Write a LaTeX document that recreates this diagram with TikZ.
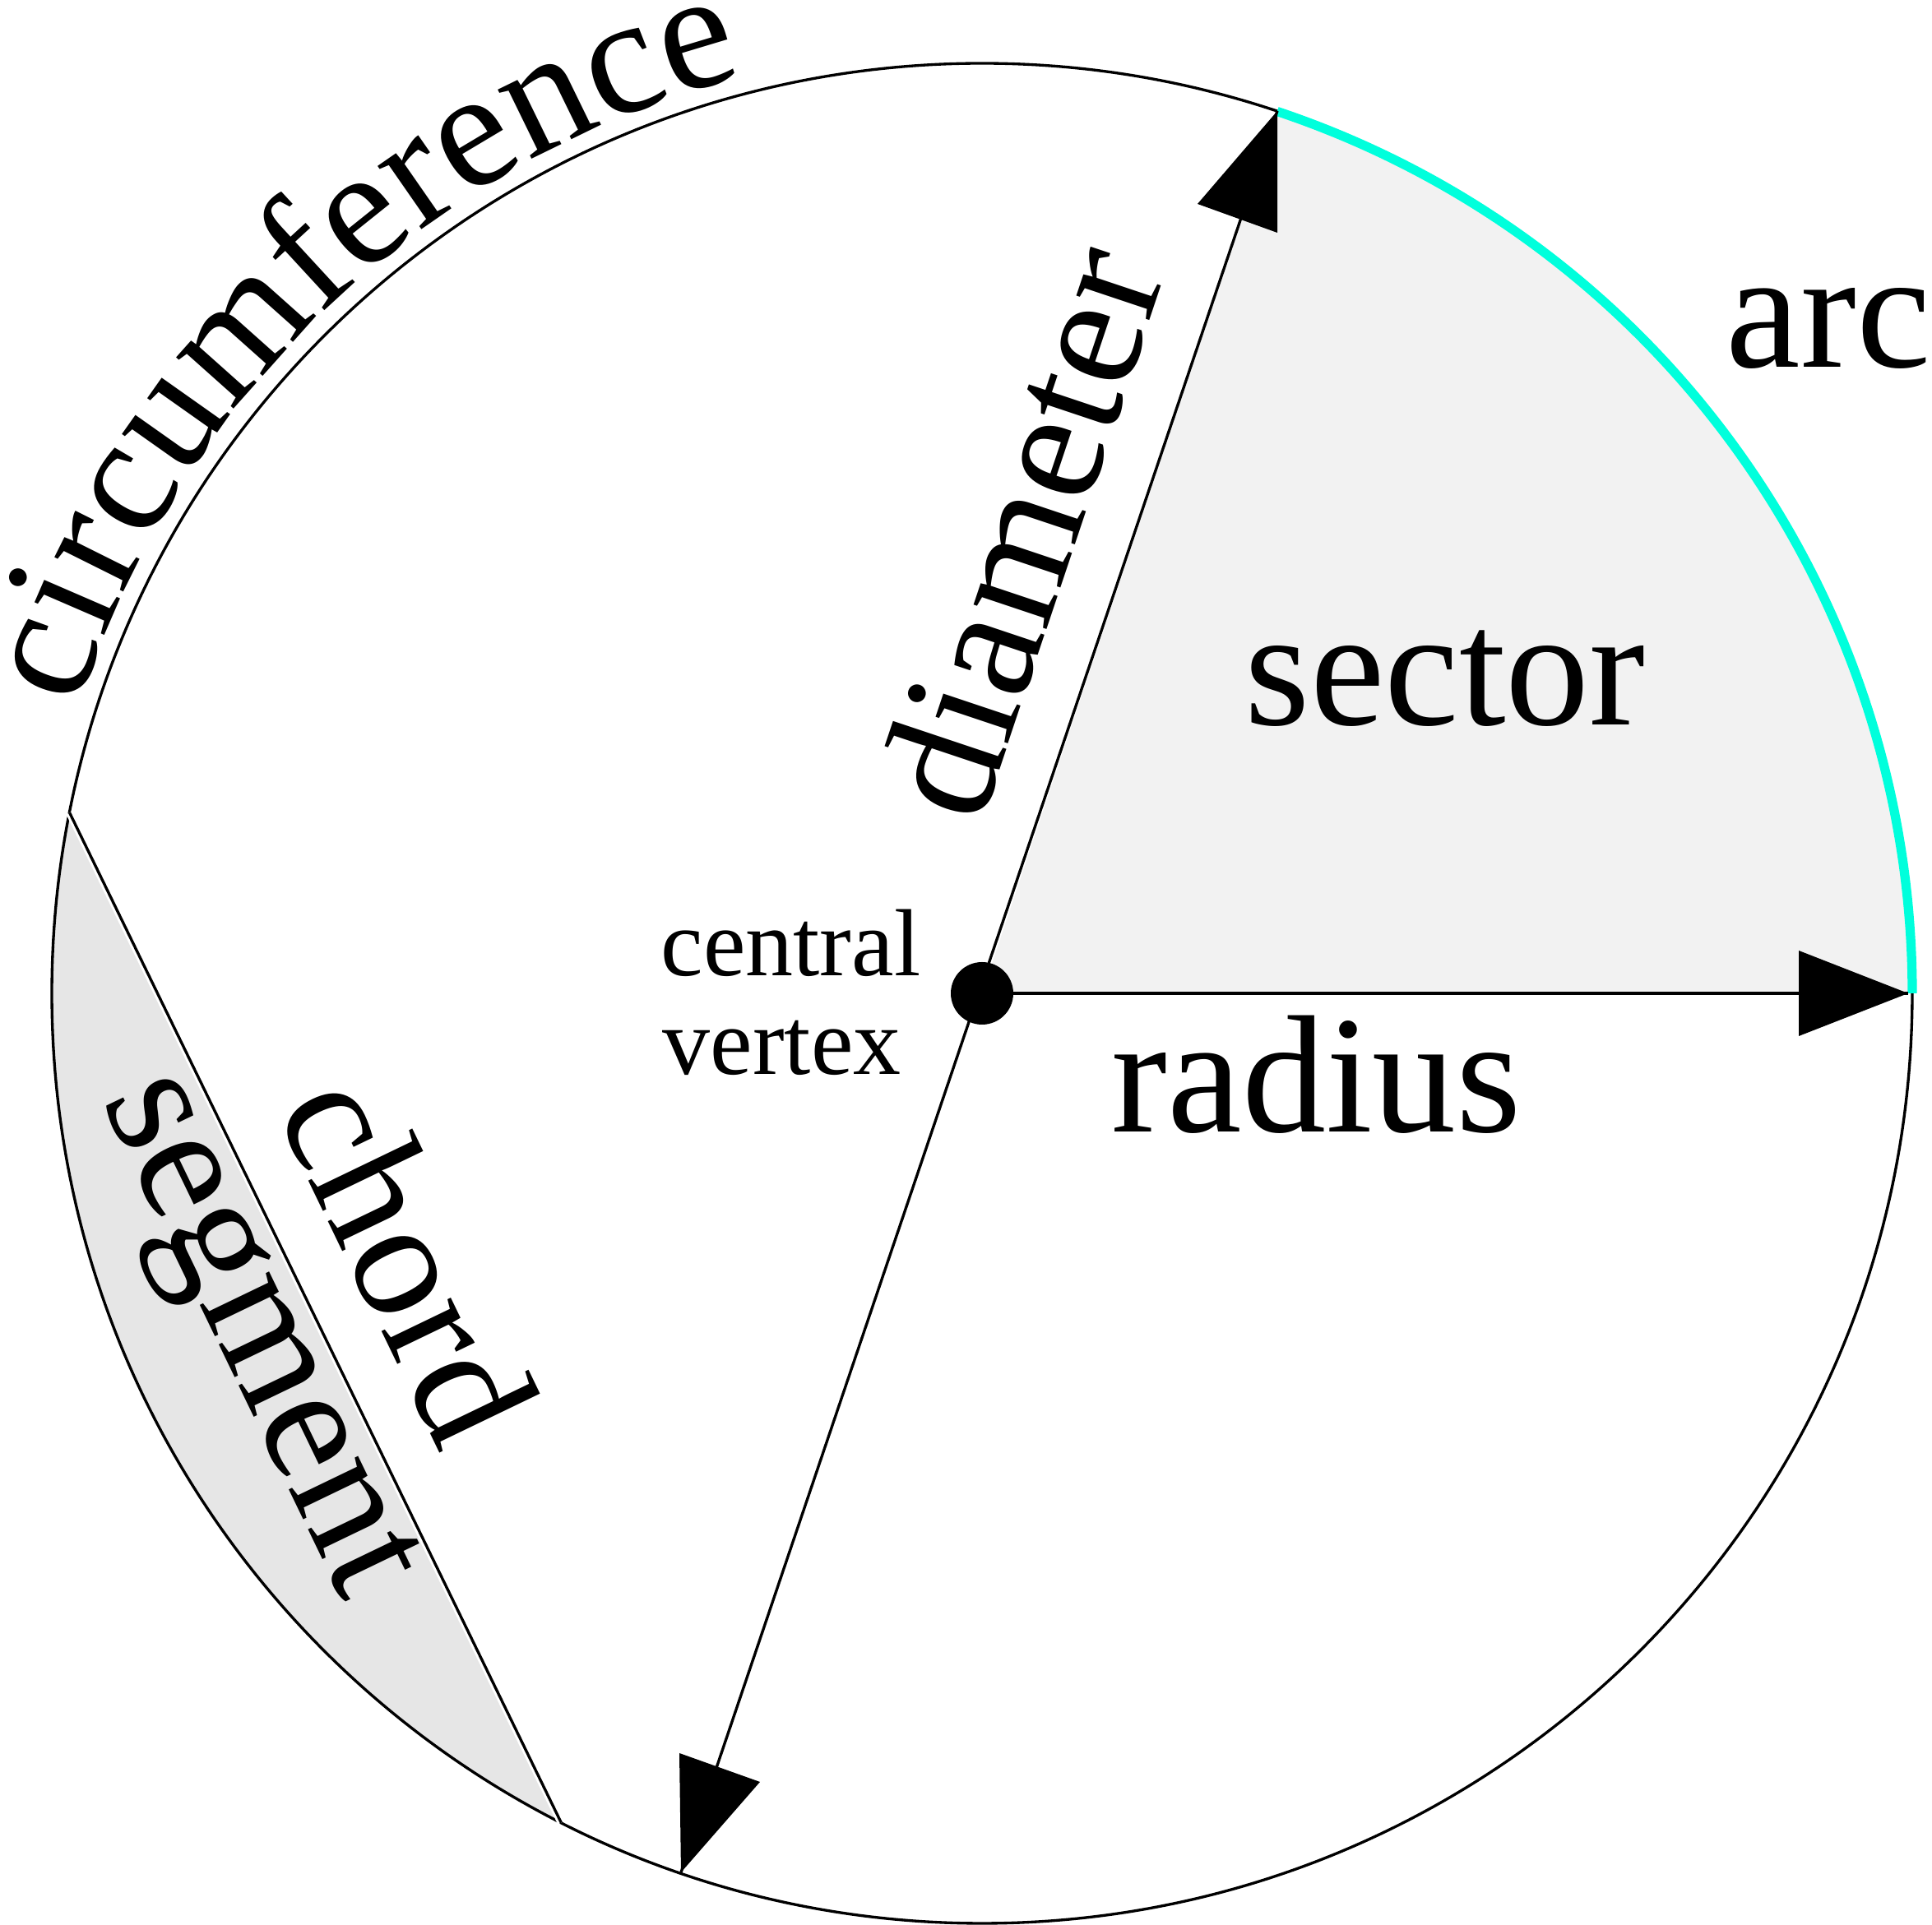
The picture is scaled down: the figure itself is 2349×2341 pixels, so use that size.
\documentclass[tikz,border=0pt]{standalone}
\usepackage{fontspec}
\setmainfont{Liberation Serif}
\usetikzlibrary{calc,decorations.text}
\definecolor{arccyan}{RGB}{0,255,220}
\definecolor{sectorgray}{RGB}{242,242,242}
\definecolor{seggray}{RGB}{230,230,230}
\begin{document}
\begin{tikzpicture}[x=0.1mm,y=0.1mm,
  biglab/.style={font=\fontsize{58}{60}\selectfont, inner sep=0pt},
  smalllab/.style={font=\fontsize{33}{34}\selectfont, inner sep=0pt},
  thinline/.style={line width=0.95pt},
  headfill/.style={fill=black}]
\useasboundingbox (0,0) rectangle (2349,2341);
\coordinate (C) at (1194,1133);
\coordinate (T) at (1553,2206);
\coordinate (B) at (828,64);
\coordinate (rt) at (2320,1133);
\coordinate (ct) at ($(C)+(168.8:1131)$);
\coordinate (cb) at ($(C)+(243.1:1131)$);
\coordinate (a0) at ($(C)+(0:1131)$);
% sector
\fill[sectorgray] (C) -- (a0) arc[start angle=0, end angle=71.5, radius=11.31cm] -- cycle;
% segment
\fill[seggray] (ct) arc[start angle=168.8, end angle=243.1, radius=11.31cm] -- cycle;
% circle
\draw[thinline] (C) circle[radius=11.31cm];
% arc
\draw[arccyan, line width=3.2pt] (a0) arc[start angle=0, end angle=71.5, radius=11.31cm];
% chord
\draw[white, line width=2.6pt] (ct) -- (cb);
\draw[thinline] (ct) -- (cb);
% diameter
\draw[thinline] (B) -- (T);
% radius
\draw[thinline] (C) -- (rt);
% arrowheads
\fill[headfill] (T) -- ++(-97,-113) -- ++(97,-35) -- cycle;
\fill[headfill] (B) -- ++(-2,145) -- ++(98,-35) -- cycle;
\fill[headfill] (rt) -- ++(-133,52) -- ++(0,-104) -- cycle;
% central vertex dot
\node[circle, fill=black, minimum size=7.6mm, inner sep=0pt] (cv) at (C) {};
% labels
\node[biglab, anchor=base west] (arcL) at (2098,1894) {arc};
\node[biglab, anchor=base west] (sectorL) at (1513,1459) {sector};
\node[biglab, anchor=base west] (radiusL) at (1351,964) {radius};
\node[smalllab, anchor=base west] (centralL) at (803,1154) {central};
\node[smalllab, anchor=base west] (vertexL) at (805,1034) {vertex};
\node[biglab, anchor=base, rotate=71.5] (diamL) at ($(C)+(71.5:548)+(161.5:66)$) {diameter};
\node[biglab, anchor=base, rotate=-64.26] (chordL) at ($(ct)!6.67cm!(cb)+(25.74:65)$) {chord};
\node[biglab, anchor=base, rotate=-64.26] (segL) at ($(ct)!6.72cm!(cb)+(205.74:120)$) {segment};
\path[decorate, decoration={text along path, text align=center,
  text={|\fontsize{58}{60}\selectfont|circumference}}]
  ($(C)+(163.5:1152)$) arc[start angle=163.5, end angle=103.5, radius=11.52cm];
\end{tikzpicture}
\end{document}
